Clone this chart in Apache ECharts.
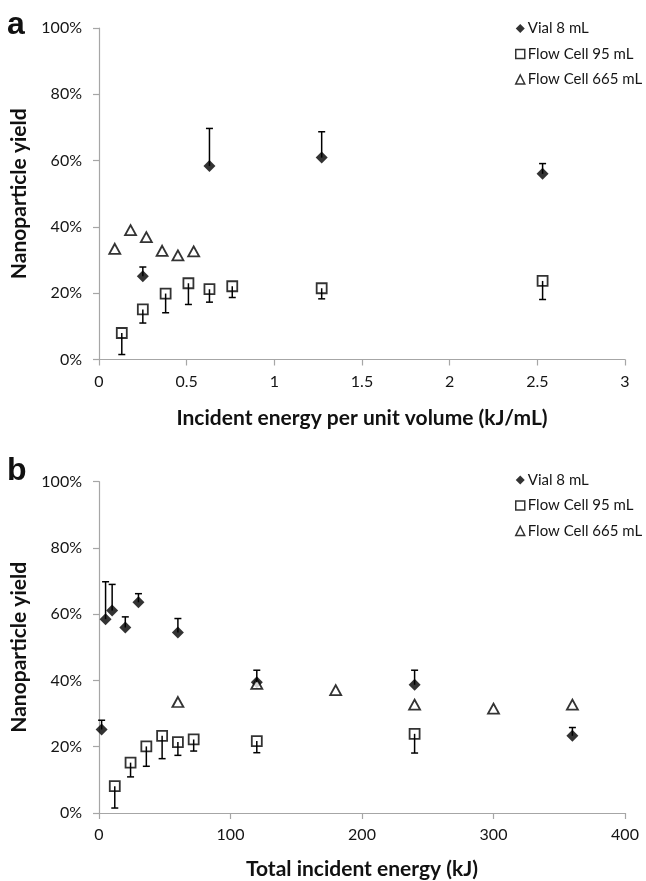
<!DOCTYPE html>
<html>
<head>
<meta charset="utf-8">
<script src="https://cdn.jsdelivr.net/npm/echarts@6/dist/echarts.min.js"></script>
<style>
  html, body { margin: 0; padding: 0; background: #fff; }
  #chart { width: 646px; height: 881px; }
</style>
</head>
<body>
<div id="chart"></div>
<script>
// panel a: incident energy per unit volume (kJ/mL)
var vialAX = [0.25, 0.63, 1.27, 2.53];
var vialAY = [25.1, 58.4, 60.9, 56.0];
var vialAErrUp = [2.8, 11.3, 7.8, 3.1];

var fc95AX = [0.13, 0.25, 0.38, 0.51, 0.63, 0.76, 1.27, 2.53];
var fc95AY = [8.0, 15.1, 19.9, 23.0, 21.2, 22.1, 21.5, 23.7];
var fc95AErrDown = [6.5, 4.1, 5.8, 6.4, 3.9, 3.4, 3.2, 5.6];

var fc665AX = [0.09, 0.18, 0.27, 0.36, 0.45, 0.54];
var fc665AY = [33.4, 39.0, 36.9, 32.8, 31.4, 32.6];

// panel b: total incident energy (kJ)
var vialBX = [2, 5, 10, 20, 30, 60, 120, 240, 360];
var vialBY = [25.2, 58.5, 61.1, 56.0, 63.6, 54.5, 39.5, 38.7, 23.3];
var vialBErrUp = [2.8, 11.3, 7.9, 3.2, 2.6, 4.2, 3.6, 4.4, 2.5];

var fc95BX = [12, 24, 36, 48, 60, 72, 120, 240];
var fc95BY = [8.1, 15.2, 20.1, 23.3, 21.4, 22.2, 21.7, 23.9];
var fc95BErrDown = [6.6, 4.3, 6.0, 6.9, 4.0, 3.5, 3.5, 5.8];

var fc665BX = [60, 120, 180, 240, 300, 360];
var fc665BY = [33.5, 39.0, 37.1, 32.7, 31.5, 32.7];

var seriesNames = ['Vial 8 mL', 'Flow Cell 95 mL', 'Flow Cell 665 mL'];

function zip(xs, ys, es) {
  return xs.map(function (x, i) {
    return es ? [x, ys[i], es[i]] : [x, ys[i]];
  });
}

var axisGray = '#a6a6a6';
var labelFont = 'Lato, "Open Sans", sans-serif';

function errRender(dir) {
  return function (params, api) {
    var x = api.value(0), y = api.value(1), e = api.value(2);
    var p0 = api.coord([x, y]);
    var p1 = api.coord([x, y + dir * e]);
    var st = { stroke: '#000', lineWidth: 1.5 };
    return {
      type: 'group',
      children: [
        { type: 'line', shape: { x1: p0[0], y1: p0[1], x2: p1[0], y2: p1[1] }, style: st },
        { type: 'line', shape: { x1: p1[0] - 3.5, y1: p1[1], x2: p1[0] + 3.5, y2: p1[1] }, style: st }
      ]
    };
  };
}

function xAxisOf(grid, max, interval, name, gap) {
  return {
    gridIndex: grid, type: 'value', min: 0, max: max, interval: interval,
    name: name, nameLocation: 'middle', nameGap: gap,
    nameTextStyle: { fontFamily: labelFont, fontWeight: 'bold', fontSize: 21, color: '#111' },
    axisLine: { show: true, lineStyle: { color: axisGray, width: 1.2 } },
    axisTick: { show: true, length: 6, lineStyle: { color: axisGray, width: 1.2 } },
    axisLabel: { margin: 14, fontFamily: labelFont, fontSize: 16, color: '#151515' },
    splitLine: { show: false }
  };
}

function yAxisOf(grid) {
  return {
    gridIndex: grid, type: 'value', min: 0, max: 100, interval: 20,
    name: 'Nanoparticle yield', nameLocation: 'middle', nameGap: 69, nameRotate: 90,
    nameTextStyle: { fontFamily: labelFont, fontWeight: 'bold', fontSize: 21, color: '#111' },
    axisLine: { show: true, lineStyle: { color: axisGray, width: 1.2 } },
    axisTick: { show: true, length: 6, lineStyle: { color: axisGray, width: 1.2 } },
    axisLabel: { margin: 17, fontFamily: labelFont, fontSize: 16, color: '#151515', formatter: '{value}%' },
    splitLine: { show: false }
  };
}

function legendOf(top) {
  return {
    orient: 'vertical', left: 515, top: top, padding: 0,
    itemWidth: 9, itemHeight: 9, itemGap: 10.5,
    data: [
      { name: seriesNames[0], itemStyle: { color: '#000', borderWidth: 0 } },
      { name: seriesNames[1], itemStyle: { color: '#fff', borderColor: '#000', borderWidth: 1.5 } },
      { name: seriesNames[2], itemStyle: { color: '#fff', borderColor: '#000', borderWidth: 1.5 } }
    ],
    textStyle: { fontFamily: labelFont, fontSize: 15, color: '#151515', padding: [0, 0, 0, -2] }
  };
}

function panelSeries(idx, vx, vy, ve, sx, sy, se, tx, ty) {
  return [
    {
      name: seriesNames[0], type: 'scatter', xAxisIndex: idx, yAxisIndex: idx,
      symbol: 'diamond', symbolSize: 12, itemStyle: { color: '#000' },
      data: zip(vx, vy), z: 3
    },
    {
      name: seriesNames[1], type: 'scatter', xAxisIndex: idx, yAxisIndex: idx,
      symbol: 'rect', symbolSize: 10,
      itemStyle: { color: '#fff', borderColor: '#000', borderWidth: 1.8 },
      data: zip(sx, sy), z: 3
    },
    {
      name: seriesNames[2], type: 'scatter', xAxisIndex: idx, yAxisIndex: idx,
      symbol: 'triangle', symbolSize: [11, 10],
      itemStyle: { color: '#fff', borderColor: '#000', borderWidth: 1.8 },
      data: zip(tx, ty), z: 3
    },
    {
      type: 'custom', xAxisIndex: idx, yAxisIndex: idx, z: 4,
      renderItem: errRender(1), encode: { x: 0, y: 1 },
      data: zip(vx, vy, ve)
    },
    {
      type: 'custom', xAxisIndex: idx, yAxisIndex: idx, z: 4,
      renderItem: errRender(-1), encode: { x: 0, y: 1 },
      data: zip(sx, sy, se)
    }
  ];
}

var chart = echarts.init(document.getElementById('chart'));
chart.setOption({
  animation: false,
  backgroundColor: '#fff',
  grid: [
    { left: 99, top: 28, width: 526, height: 331.5 },
    { left: 99, top: 481.7, width: 526, height: 331.5 }
  ],
  xAxis: [
    xAxisOf(0, 3, 0.5, 'Incident energy per unit volume (kJ/mL)', 48),
    xAxisOf(1, 400, 100, 'Total incident energy (kJ)', 46)
  ],
  yAxis: [yAxisOf(0), yAxisOf(1)],
  legend: [legendOf(21), legendOf(472.5)],
  graphic: [
    { type: 'text', left: 7, top: 9, style: { text: 'a', font: 'bold 32px "Liberation Sans", Arial, sans-serif', fill: '#111' } },
    { type: 'text', left: 7, top: 455, style: { text: 'b', font: 'bold 32px "Liberation Sans", Arial, sans-serif', fill: '#111' } }
  ],
  series: [].concat(
    panelSeries(0, vialAX, vialAY, vialAErrUp, fc95AX, fc95AY, fc95AErrDown, fc665AX, fc665AY),
    panelSeries(1, vialBX, vialBY, vialBErrUp, fc95BX, fc95BY, fc95BErrDown, fc665BX, fc665BY)
  )
});
</script>
</body>
</html>
